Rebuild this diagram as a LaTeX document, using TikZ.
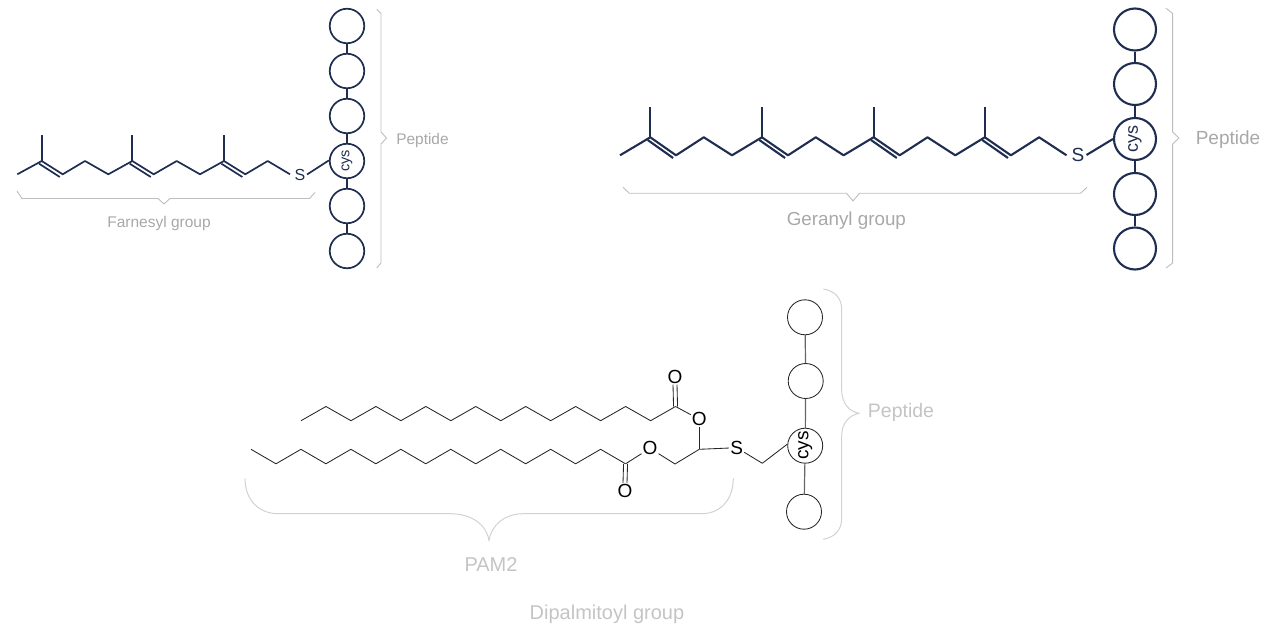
\documentclass[tikz,border=0pt]{standalone}
\usepackage{fontspec}
\setmainfont{Liberation Sans}
\usetikzlibrary{calc}
\definecolor{navyBond}{HTML}{1F2D50}
\definecolor{greyBrace}{HTML}{BDBDBD}
\definecolor{greyLabel}{HTML}{A8A8A8}
\definecolor{paleBrace}{HTML}{D2D2D2}
\definecolor{paleLabel}{HTML}{C4C4C4}
\newcommand\colorBond{navyBond}
\newcommand\chainStep{24.97}
\newcommand\bondPair[3]{
	\draw[#1] ($(#2)+(-2.6,2.7)$) to ($(#3)+(-2.9,2.7)$);
}
\tikzset{
	smallBond/.style={color=\colorBond, line width=1.7pt, line join=round},
	largeBond/.style={color=\colorBond, line width=2.1pt, line join=round},
	thinBond/.style={color=black!85, line width=0.85pt, line join=round},
	linkBond/.style={color=black!60, line width=1.2pt},
	smallBead/.style={circle, draw=\colorBond, line width=1.7pt, minimum size=34.5pt, inner sep=0pt, text=\colorBond, font=\fontsize{14.5}{16}\selectfont},
	largeBead/.style={circle, draw=\colorBond, line width=2.1pt, minimum size=42pt, inner sep=0pt, text=\colorBond, font=\fontsize{18}{20}\selectfont},
	thinBead/.style={circle, draw=black!85, line width=0.85pt, minimum size=35pt, inner sep=0pt, text=black, font=\fontsize{19}{20}\selectfont},
	atomSmall/.style={inner sep=1.5pt, text=\colorBond, font=\fontsize{16}{18}\selectfont},
	atomLarge/.style={inner sep=2pt, text=\colorBond, font=\fontsize{19}{21}\selectfont},
	atomThin/.style={inner sep=1pt, text=black, font=\fontsize{19}{20}\selectfont},
	greyBr/.style={color=greyBrace, line width=0.9pt, line join=round},
	paleBr/.style={color=paleBrace, line width=1pt, line join=round},
}
\begin{document}
\begin{tikzpicture}[x=1pt,y=-1pt]
	\useasboundingbox (0,0) rectangle (1270,631);

	% farnesyl
	\foreach \i/\cx/\cy in {0/17.3/174.3,1/41.7/161,2/62.7/174.3,3/85/161,4/108.3/174.3,5/132.3/161,6/153.7/174.3,7/176.7/161,8/200/174.3,9/224/161,10/245.3/174.3,11/267.7/161,12/290/174.3}{
		\coordinate (far\i) at (\cx,\cy);
	}
	\foreach \i/\cx in {1/41.7,5/132.3,9/224}{
		\coordinate (farMe\i) at (\cx,135);
		\draw[smallBond] (far\i) to (farMe\i);
	}
	\draw[smallBond] (far0) foreach \i in {1,...,12}{ -- (far\i)};
	\bondPair{smallBond}{far1}{far2}
	\bondPair{smallBond}{far5}{far6}
	\bondPair{smallBond}{far9}{far10}
	\node[atomSmall] (farS) at (300,174.5) {S};
	\foreach \i/\cy in {1/26,2/71,3/116,5/206,6/251}{
		\node[smallBead] (farBead\i) at (347,\cy) {};
	}
	\node[smallBead] (farCys) at (347,161) {\rotatebox{90}{cys}};
	\draw[smallBond] (farBead1) to (farBead2);
	\draw[smallBond] (farBead2) to (farBead3);
	\draw[smallBond] (farBead3) to (farCys);
	\draw[smallBond] (farCys) to (farBead5);
	\draw[smallBond] (farBead5) to (farBead6);
	\draw[smallBond] (farS.east) to (farCys.178);
	\draw[greyBr] (17,191) -- (22,198.5) -- (158,198.5) -- (164,204) -- (170,198.5) -- (309.5,198.5) -- (315,192.5);
	\draw[greyBr] (376.7,9.3) -- (381,13.3) -- (381,132) -- (386.5,138) -- (381,144) -- (381,263) -- (376.7,268);
	\node[text=greyLabel, font=\fontsize{15.5}{18}\selectfont, inner sep=0pt] (farLabel) at (159,223.5) {Farnesyl group};
	\node[text=greyLabel, font=\fontsize{15.4}{18}\selectfont, inner sep=0pt] (farPeptide) at (422.5,141) {Peptide};

	% geranyl
	\foreach \i/\cx/\cy in {0/620/155.3,1/650.3/137.3,2/676/155.3,3/703.8/137.3,4/732/155.3,5/761.9/137.3,6/788/155.3,7/815.8/137.3,8/843.6/155.3,9/873.6/137.3,10/899.7/155.3,11/927.5/137.3,12/955.3/155.3,13/984.8/137.3,14/1010.9/155.3,15/1039.1/137.3,16/1066.5/155.3}{
		\coordinate (ger\i) at (\cx,\cy);
	}
	\foreach \i/\cx in {1/650.3,5/761.9,9/873.6,13/984.8}{
		\coordinate (gerMe\i) at (\cx,107.3);
		\draw[largeBond] (ger\i) to (gerMe\i);
	}
	\draw[largeBond] (ger0) foreach \i in {1,...,16}{ -- (ger\i)};
	\bondPair{largeBond}{ger1}{ger2}
	\bondPair{largeBond}{ger5}{ger6}
	\bondPair{largeBond}{ger9}{ger10}
	\bondPair{largeBond}{ger13}{ger14}
	\node[atomLarge] (gerS) at (1078,155) {S};
	\foreach \i/\cy in {1/29.5,2/84,4/194,5/248.5}{
		\node[largeBead] (gerBead\i) at (1135,\cy) {};
	}
	\node[largeBead] (gerCys) at (1135,139) {\rotatebox{90}{cys}};
	\draw[largeBond] (gerBead1) to (gerBead2);
	\draw[largeBond] (gerBead2) to (gerCys);
	\draw[largeBond] (gerCys) to (gerBead4);
	\draw[largeBond] (gerBead4) to (gerBead5);
	\draw[largeBond] (gerS.east) to (gerCys.180);
	\draw[greyBr] (623,187.3) -- (629.3,193.3) -- (846.5,193.3) -- (853,201) -- (859.5,193.3) -- (1080.5,193.3) -- (1087,187.3);
	\draw[greyBr] (1166,8.3) -- (1172.6,13.3) -- (1172.6,132) -- (1179,138) -- (1172.6,144) -- (1172.6,263) -- (1166,268);
	\node[text=greyLabel, font=\fontsize{18.8}{22}\selectfont, inner sep=0pt] (gerLabel) at (846.4,221) {Geranyl group};
	\node[text=greyLabel, font=\fontsize{19}{22}\selectfont, inner sep=0pt] (gerPeptide) at (1228,140) {Peptide};

	% dipalmitoyl
	\foreach \i in {0,...,15}{
		\pgfmathsetmacro\chainY{mod(\i,2)==0 ? 420.7 : 406.5}
		\coordinate (upper\i) at ({301+\i*\chainStep},\chainY);
		\pgfmathsetmacro\chainY{mod(\i,2)==0 ? 449.3 : 463.8}
		\coordinate (lower\i) at ({251+\i*\chainStep},\chainY);
	}
	\draw[thinBond] (upper0) foreach \i in {1,...,15}{ -- (upper\i)};
	\draw[thinBond] (lower0) foreach \i in {1,...,15}{ -- (lower\i)};
	\node[atomThin] (oUpperTop) at (675,376.7) {O};
	\node[atomThin] (oUpper) at (699.3,419.3) {O};
	\node[atomThin] (oLower) at (650,448.3) {O};
	\node[atomThin] (oLowerDown) at (625,491) {O};
	\node[atomThin] (thioS) at (736.7,447.7) {S};
	\coordinate (ch) at (699.3,449.3);
	\coordinate (chTwo) at (675,464);
	\coordinate (chThree) at (762.3,463.3);
	\foreach \offs in {-2,2}{
		\draw[thinBond] ($(upper15)+(\offs,0)$) to ($(oUpperTop.south)+(\offs,0)$);
		\draw[thinBond] ($(lower15)+(\offs,0)$) to ($(oLowerDown.north)+(\offs,0)$);
	}
	\draw[thinBond] (upper15) to (oUpper);
	\draw[thinBond] (oUpper) to (ch);
	\draw[thinBond] (ch) to (thioS);
	\draw[thinBond] (ch) to (chTwo) to (oLower);
	\draw[thinBond] (oLower) to (lower15);
	\draw[thinBond] (thioS) to (chThree);
	\node[thinBead] (palBead1) at (805,317.3) {};
	\node[thinBead] (palBead2) at (805.7,381) {};
	\node[thinBead] (palCys) at (805.2,445.7) {\rotatebox{90}{cys}};
	\node[thinBead] (palBead4) at (804,511.7) {};
	\draw[thinBond] (chThree) to (palCys.175);
	\draw[linkBond] (palBead1) to (palBead2);
	\draw[linkBond] (palBead2) to (palCys);
	\draw[linkBond] (palCys) to (palBead4);
	\draw[paleBr] (245,478.3) .. controls (245,501) and (260,513.7) .. (278,513.7) -- (450,513.7) .. controls (472,513.7) and (487,525) .. (489,541) .. controls (491,525) and (505,513.7) .. (523,513.7) -- (701.7,513.7) .. controls (720,513.7) and (733.3,500) .. (733.3,478.3);
	\draw[paleBr] (823.3,289) .. controls (835,291) and (841.7,298) .. (841.7,310) -- (841.7,390) .. controls (841.7,404) and (850,412) .. (859.3,413.3) .. controls (850,415) and (841.7,422) .. (841.7,436) -- (841.7,518) .. controls (841.7,530) and (835,537) .. (823.3,539.3);
	\node[text=paleLabel, font=\fontsize{19.5}{22}\selectfont, inner sep=0pt] (palPeptide) at (901,412) {Peptide};
	\node[text=paleLabel, font=\fontsize{20}{22}\selectfont, inner sep=0pt] (palPam) at (491,565) {PAM2};
	\node[text=paleLabel, font=\fontsize{20}{22}\selectfont, inner sep=0pt] (palLabel) at (607,614) {Dipalmitoyl group};
\end{tikzpicture}
\end{document}
